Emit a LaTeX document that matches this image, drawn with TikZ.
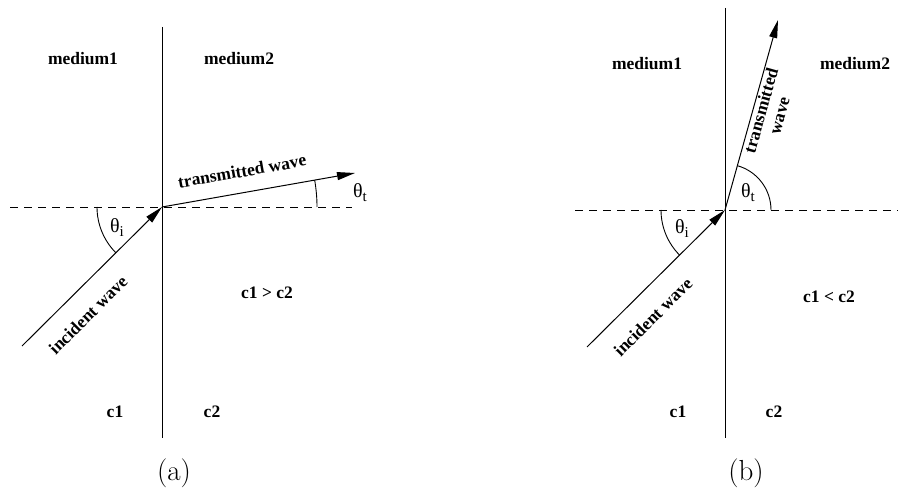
\documentclass[tikz,border=0pt]{standalone}
\usepackage{fontspec}
\newfontfamily\tms{Liberation Serif}
\usetikzlibrary{arrows.meta}
\begin{document}
\begin{tikzpicture}[x=1pt,y=1pt,
  lbl/.style={font=\tms\bfseries\fontsize{17.5}{19}\selectfont, inner sep=0pt},
  ang/.style={font=\tms\fontsize{20}{22}\selectfont, inner sep=0pt},
  captext/.style={font=\fontsize{29}{32}\selectfont, inner sep=0pt, anchor=base},
  wall/.style={line width=1pt},
  dashline/.style={line width=0.9pt, dash pattern=on 8pt off 6pt},
  ray/.style={line width=1pt, -{Triangle[length=18pt,width=8pt]}},
  arcline/.style={line width=0.9pt}]
\useasboundingbox (0,0) rectangle (900,488);
\newcommand{\thsub}[1]{θ\raisebox{-4pt}{\fontsize{15}{15}\selectfont #1}}
% ---------- panel (a)
\coordinate (A-top) at (162,461);
\coordinate (A-bot) at (162,50);
\coordinate (A-dl) at (10,281);
\coordinate (A-dr) at (352,281);
\coordinate (A-O) at (162,281);
\coordinate (A-in) at (22,142);
\coordinate (A-tr) at (355,315);
\draw[wall] (A-top) -- (A-bot);
\draw[dashline] (A-dl) -- (A-dr);
\draw[ray] (A-in) -- (A-O);
\draw[ray] (A-O) -- (A-tr);
\draw[arcline] ([shift={(180:65)}]A-O) arc[start angle=180,end angle=224.8,radius=65];
\draw[arcline] ([shift={(0:155)}]A-O) arc[start angle=0,end angle=10,radius=155];
\node[ang] (A-thi) at (117,260) {\thsub{i}};
\node[ang] (A-tht) at (360,295) {\thsub{t}};
\node[lbl] (A-m1) at (83,429) {medium1};
\node[lbl] (A-m2) at (239,429) {medium2};
\node[lbl,rotate=10] (A-tw) at (242,317) {transmitted wave};
\node[lbl,rotate=44.8] (A-iw) at (88,173) {incident wave};
\node[lbl] (A-cc) at (267,195) {c1 > c2};
\node[lbl] (A-c1) at (115,76) {c1};
\node[lbl] (A-c2) at (212,76) {c2};
\node[captext] (A-cap) at (174,8) {(a)};
% ---------- panel (b)
\coordinate (B-top) at (725,480);
\coordinate (B-bot) at (725,50);
\coordinate (B-dl) at (575,278);
\coordinate (B-dr) at (898,278);
\coordinate (B-O) at (725,278);
\coordinate (B-in) at (587,141);
\coordinate (B-tr) at (778,468);
\draw[wall] (B-top) -- (B-bot);
\draw[dashline] (B-dl) -- (B-dr);
\draw[ray] (B-in) -- (B-O);
\draw[ray] (B-O) -- (B-tr);
\draw[arcline] ([shift={(180:64)}]B-O) arc[start angle=180,end angle=224.8,radius=64];
\draw[arcline] ([shift={(0:46)}]B-O) arc[start angle=0,end angle=74.4,radius=46];
\node[ang] (B-thi) at (682,259) {\thsub{i}};
\node[ang] (B-tht) at (748,295) {\thsub{t}};
\node[lbl] (B-m1) at (647,424) {medium1};
\node[lbl] (B-m2) at (855,424) {medium2};
\node[lbl,rotate=74.4,align=center] (B-tw) at (770,375) {transmitted\\wave};
\node[lbl,rotate=44.8] (B-iw) at (653,171) {incident wave};
\node[lbl] (B-cc) at (829,191) {c1 < c2};
\node[lbl] (B-c1) at (678,76) {c1};
\node[lbl] (B-c2) at (774,76) {c2};
\node[captext] (B-cap) at (746,8) {(b)};
\end{tikzpicture}
\end{document}
